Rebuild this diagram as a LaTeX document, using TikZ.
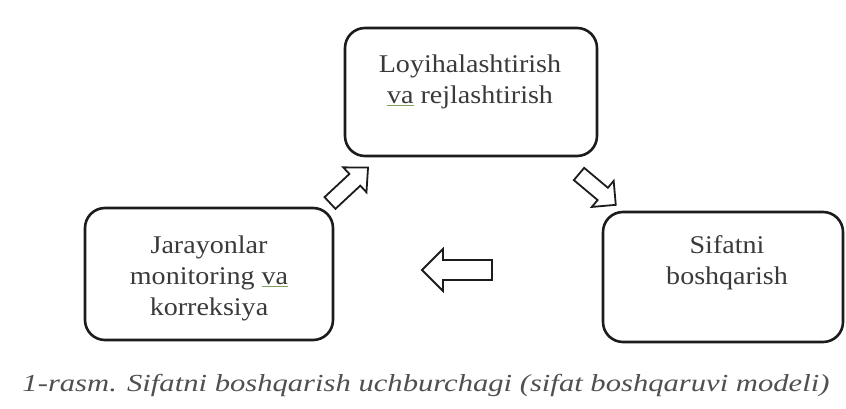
\documentclass[tikz,border=0pt]{standalone}
\usepackage{fontspec}
\setmainfont{Liberation Serif}
\newfontfamily\bodyfont[FakeStretch=1.1]{Liberation Serif}
\newfontfamily\capfont[FakeStretch=1.25]{Liberation Serif}
\definecolor{boxc}{HTML}{1C1C1C}
\definecolor{txtc}{HTML}{3A3A3A}
\definecolor{capc}{HTML}{505050}
\definecolor{ulc}{HTML}{7FA060}
\newcommand\greenul[1]{{\color{ulc}\underline{\color{txtc}#1}}}
\newcommand\blockarr[7]{%
  \draw[barrow, shift={(#1,#2)}, rotate=#3]
    (0,-#5) -- ({#4-#7},-#5) -- ({#4-#7},-#6) -- (#4,0) --
    ({#4-#7},#6) -- ({#4-#7},#5) -- (0,#5) -- cycle;}
\begin{document}
\begin{tikzpicture}[x=1pt,y=1pt,
  box/.style={draw=boxc, line width=2.6pt, rounded corners=20pt, fill=white, inner sep=0pt},
  lbl/.style={text=txtc, font=\bodyfont\fontsize{25.5}{31}\selectfont, align=center, inner sep=0pt, anchor=north},
  barrow/.style={draw=boxc, line width=1.8pt, fill=white, line join=miter},
  captext/.style={text=capc, font=\capfont\itshape\fontsize{24.5}{28}\selectfont, inner sep=0pt, anchor=base}]
\useasboundingbox[fill=white] (0,0) rectangle (846,409);

\node[box, minimum width=252pt, minimum height=128pt] (plan) at (471,317) {};
\node[box, minimum width=248pt, minimum height=132pt] (mon) at (209,135) {};
\node[box, minimum width=240pt, minimum height=130pt] (qual) at (723,132) {};

\node[lbl] (plant) at (470,354.4) {Loyihalashtirish\\\greenul{va} rejlashtirish};
\node[lbl] (mont) at (209,173.4) {Jarayonlar\\monitoring \greenul{va}\\korreksiya};
\node[lbl] (qualt) at (727,173.4) {Sifatni\\boshqarish};

\blockarr{330}{206}{43}{52}{8}{17}{18}
\blockarr{579}{235}{-40}{48}{8}{17}{17}
\blockarr{492}{139}{180}{70}{10}{21}{21}

\node[captext] (caption) at (426,17) {1-rasm. Sifatni boshqarish uchburchagi (sifat boshqaruvi modeli)};
\end{tikzpicture}
\end{document}
